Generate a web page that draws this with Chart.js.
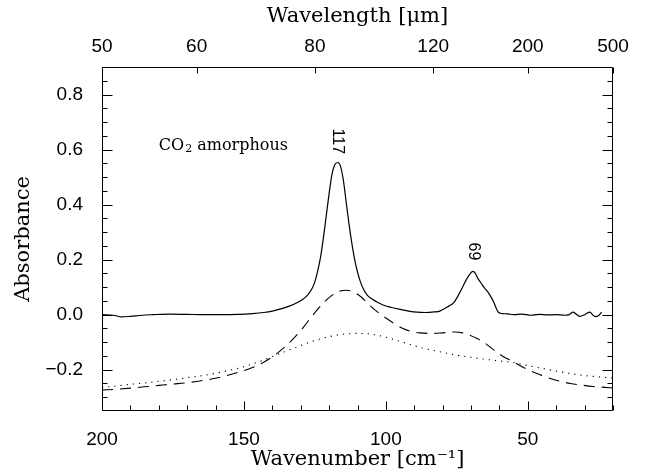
<!DOCTYPE html>
<html>
<head>
<meta charset="utf-8">
<script src="https://cdn.jsdelivr.net/npm/chart.js@4.4.1/dist/chart.umd.min.js"></script>
<style>
  html, body { margin: 0; padding: 0; background: #fff; }
  #wrap { width: 646px; height: 472px; }
</style>
</head>
<body>
<div id="wrap"><canvas id="co2-chart" width="646" height="472"></canvas></div>
<script>
// measured spectrum, wavenumber [cm-1] -> absorbance
const solidWn = [200, 196, 193, 190, 186, 182, 176, 170, 164, 158, 152, 147, 143, 140, 137, 134, 131, 129, 127.5, 126, 125, 124, 123, 122, 121, 120, 119, 118, 117, 116, 115, 114, 113, 112, 111, 110, 109, 108, 106.5, 105, 103, 101, 98, 95, 92, 89, 86, 83, 81, 79, 77.5, 76, 74.5, 73, 71.5, 70, 69.3, 68.5, 67.5, 66.5, 65.5, 64.5, 63.3, 62, 61, 60.3, 59, 57, 55, 52, 49, 46, 43, 40, 37, 35.5, 34, 33, 31.6, 30, 28.1, 27.2, 26.3, 25.3, 24];
const solidAbs = [0.000, -0.002, -0.008, -0.006, -0.002, 0.000, 0.002, 0.001, 0.000, 0.000, 0.001, 0.004, 0.008, 0.013, 0.021, 0.031, 0.045, 0.058, 0.072, 0.095, 0.12, 0.16, 0.21, 0.28, 0.36, 0.44, 0.51, 0.545, 0.553, 0.54, 0.49, 0.41, 0.33, 0.26, 0.20, 0.155, 0.12, 0.095, 0.07, 0.058, 0.045, 0.035, 0.026, 0.019, 0.013, 0.009, 0.008, 0.010, 0.013, 0.024, 0.033, 0.045, 0.07, 0.10, 0.13, 0.153, 0.157, 0.15, 0.13, 0.115, 0.10, 0.088, 0.07, 0.045, 0.02, 0.008, 0.004, 0.003, 0.0, 0.002, -0.002, 0.001, -0.001, 0.0, -0.002, 0.0, 0.009, 0.002, -0.006, 0.0, 0.009, 0.0, -0.007, -0.005, 0.009];

// dashed model curve
const dashedWn = [200, 195, 190, 185, 180, 175, 170, 165, 160, 155, 150, 147, 144, 141, 138, 135, 132, 129, 126.5, 124, 121.5, 119, 116.5, 114, 112, 110, 108, 105.5, 103, 100, 97, 94, 91, 88, 84, 80, 76, 73, 70.5, 68, 65, 62, 59, 55, 51, 47, 43, 39, 35, 31, 27, 23, 20];
const dashedAbs = [-0.274, -0.271, -0.267, -0.262, -0.257, -0.252, -0.247, -0.240, -0.231, -0.218, -0.203, -0.192, -0.178, -0.160, -0.138, -0.112, -0.081, -0.045, -0.012, 0.020, 0.048, 0.070, 0.085, 0.089, 0.085, 0.074, 0.058, 0.032, 0.010, -0.012, -0.033, -0.050, -0.061, -0.066, -0.068, -0.066, -0.063, -0.066, -0.074, -0.086, -0.104, -0.128, -0.150, -0.172, -0.195, -0.213, -0.229, -0.241, -0.250, -0.256, -0.261, -0.264, -0.266];

// dotted model curve
const dottedWn = [200, 195, 190, 185, 180, 175, 170, 165, 160, 155, 150, 145, 140, 135, 130, 125, 120, 115, 110, 105, 100, 95, 90, 85, 80, 75, 70, 65, 60, 55, 50, 45, 40, 35, 30, 25, 20];
const dottedAbs = [-0.265, -0.259, -0.253, -0.248, -0.242, -0.236, -0.229, -0.222, -0.213, -0.202, -0.189, -0.172, -0.152, -0.132, -0.112, -0.094, -0.080, -0.071, -0.068, -0.071, -0.082, -0.097, -0.113, -0.126, -0.137, -0.147, -0.155, -0.162, -0.168, -0.174, -0.185, -0.195, -0.205, -0.214, -0.221, -0.226, -0.230];

// axis ticks
const xTicks = [200, 150, 100, 50];
const yTicks = [-0.2, 0.0, 0.2, 0.4, 0.6, 0.8];
const wavelengthTicks = [50, 60, 80, 120, 200, 500]; // micron, top axis

// peak labels
const peakLabels = ['117', '69'];
const peakWn = [117, 69];
const peakLabelAbs = [0.63, 0.23];

const toPoints = (xs, ys) => xs.map((x, i) => ({x: x, y: ys[i]}));

const minus = s => s.replace('-', '\u2212');

// IDL style frame with inward ticks
const frameTicks = {
    id: 'frameTicks',
    afterDatasetsDraw(chart) {
        const {ctx, chartArea: a, scales} = chart;
        const L = Math.round(a.left) + 0.5, R = Math.round(a.right) - 0.5;
        const T = Math.round(a.top) + 0.5, B = Math.round(a.bottom) - 0.5;
        ctx.save();
        ctx.strokeStyle = '#000';
        ctx.lineWidth = 1;
        ctx.beginPath();
        ctx.rect(L, T, R - L, B - T);
        // y ticks every 0.05, major every 0.2
        for (let k = -7; k <= 18; k++) {
            const v = k * 0.05;
            const py = Math.round(scales.y.getPixelForValue(v)) + 0.5;
            if (py < T || py > B) continue;
            const len = (k % 4 === 0) ? 10 : 5;
            ctx.moveTo(L, py); ctx.lineTo(L + len, py);
            ctx.moveTo(R, py); ctx.lineTo(R - len, py);
        }
        // bottom ticks every 10, major every 50
        for (let w = 20; w <= 200; w += 10) {
            const px = Math.round(scales.x.getPixelForValue(w)) + 0.5;
            const len = (w % 50 === 0) ? 9 : 5;
            ctx.moveTo(px, B); ctx.lineTo(px, B - len);
        }
        // top ticks at wavelength positions
        wavelengthTicks.forEach(l => {
            const px = Math.round(scales.x2.getPixelForValue(10000 / l)) + 0.5;
            ctx.moveTo(px, T); ctx.lineTo(px, T + 6);
        });
        ctx.stroke();
        ctx.restore();
    }
};

// text inside the plot
const annotations = {
    id: 'annotations',
    afterDatasetsDraw(chart) {
        const {ctx, scales} = chart;
        ctx.save();
        ctx.fillStyle = '#000';
        // CO2 amorphous
        let x = scales.x.getPixelForValue(180);
        const y = scales.y.getPixelForValue(0.615);
        ctx.textBaseline = 'middle';
        ctx.textAlign = 'left';
        ctx.font = '16px "DejaVu Serif"';
        ctx.fillText('CO', x, y);
        x += ctx.measureText('CO').width;
        ctx.font = '11px "DejaVu Serif"';
        ctx.fillText('2', x + 1, y + 4);
        x += ctx.measureText('2').width + 1;
        ctx.font = '16px "DejaVu Serif"';
        ctx.fillText(' amorphous', x, y);
        // rotated peak labels
        ctx.font = '16px "Liberation Sans"';
        ctx.textAlign = 'center';
        peakLabels.forEach((t, i) => {
            ctx.save();
            ctx.translate(scales.x.getPixelForValue(peakWn[i]), scales.y.getPixelForValue(peakLabelAbs[i]));
            ctx.rotate(Math.PI / 2);
            ctx.fillText(t, 0, 0);
            ctx.restore();
        });
        ctx.restore();
    }
};

const tickFont = {family: '"Liberation Sans", sans-serif', size: 19};
const titleFont = {family: '"DejaVu Serif", serif', size: 21};

const ctx = document.getElementById('co2-chart').getContext('2d');
const chart = new Chart(ctx, {
    type: 'line',
    data: {
        datasets: [
            {
                label: 'CO2 amorphous',
                data: toPoints(solidWn, solidAbs),
                borderColor: '#000',
                borderWidth: 1.2,
                pointRadius: 0,
                cubicInterpolationMode: 'monotone'
            },
            {
                label: 'model 1',
                data: toPoints(dashedWn, dashedAbs),
                borderColor: '#000',
                borderWidth: 1.1,
                borderDash: [11, 7],
                pointRadius: 0,
                cubicInterpolationMode: 'monotone'
            },
            {
                label: 'model 2',
                data: toPoints(dottedWn, dottedAbs),
                borderColor: '#000',
                borderWidth: 1.1,
                borderDash: [1.2, 5],
                pointRadius: 0,
                cubicInterpolationMode: 'monotone'
            }
        ]
    },
    options: {
        responsive: false,
        devicePixelRatio: 1,
        animation: false,
        layout: { padding: { left: 0, right: 33, top: 0, bottom: 0 } },
        scales: {
            x: {
                type: 'linear',
                position: 'bottom',
                min: 20,
                max: 200,
                reverse: true,
                afterBuildTicks: axis => { axis.ticks = xTicks.map(v => ({value: v})); },
                afterFit: scale => { scale.height = 61; },
                grid: { display: false, drawTicks: false },
                border: { display: false },
                ticks: { color: '#000', font: tickFont, padding: 17, maxRotation: 0, autoSkip: false },
                title: { display: true, text: 'Wavenumber [cm\u207B\u00B9]', color: '#000', font: titleFont, padding: { top: 0, bottom: 0 } }
            },
            x2: {
                type: 'linear',
                position: 'top',
                min: 20,
                max: 200,
                reverse: true,
                afterBuildTicks: axis => { axis.ticks = wavelengthTicks.map(l => ({value: 10000 / l})); },
                afterFit: scale => { scale.height = 67; },
                grid: { display: false, drawTicks: false },
                border: { display: false },
                ticks: {
                    color: '#000', font: tickFont, padding: 9, maxRotation: 0, autoSkip: false,
                    callback: (v, i) => String(wavelengthTicks[i])
                },
                title: { display: true, text: 'Wavelength [\u03BCm]', color: '#000', font: titleFont, padding: { top: 4, bottom: 0 } }
            },
            y: {
                type: 'linear',
                position: 'left',
                min: -0.35,
                max: 0.9,
                afterBuildTicks: axis => { axis.ticks = yTicks.map(v => ({value: v})); },
                afterFit: scale => { scale.width = 102; },
                grid: { display: false, drawTicks: false },
                border: { display: false },
                ticks: {
                    color: '#000', font: tickFont, padding: 19,
                    callback: v => minus(v.toFixed(1))
                },
                title: { display: true, text: 'Absorbance', color: '#000', font: titleFont, padding: { top: 11, bottom: 0 } }
            }
        },
        plugins: {
            legend: { display: false },
            tooltip: { enabled: false }
        }
    },
    plugins: [frameTicks, annotations]
});
</script>
</body>
</html>
